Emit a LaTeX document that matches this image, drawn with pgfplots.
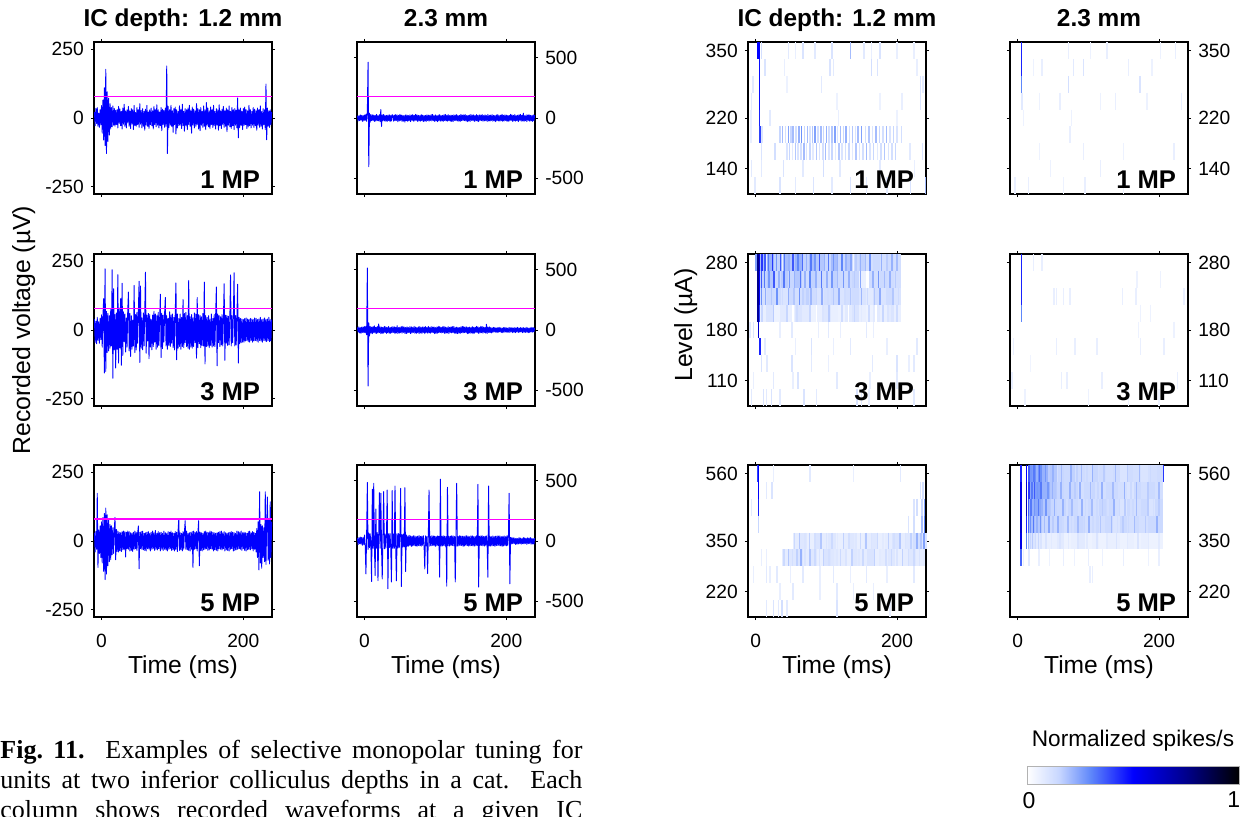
\documentclass[border=0pt]{standalone}
\usepackage{fontspec}
\setmainfont{Liberation Sans}
\newfontfamily\capfont{Liberation Serif}
\usepackage{pgfplots}
\pgfplotsset{compat=1.18}
\definecolor{wblue}{RGB}{0,0,255}
\definecolor{thr}{RGB}{255,0,255}
\tikzset{mplab/.style={anchor=base east, font=\bfseries\fontsize{12.8}{14}\selectfont, inner sep=0pt},
  ttl/.style={anchor=base, font=\bfseries\fontsize{12.2}{14}\selectfont}}
\pgfplotsset{
  colormap={spk}{rgb255(0pt)=(255,255,255) rgb255(3pt)=(200,215,255) rgb255(6pt)=(95,135,250) rgb255(10pt)=(0,0,255) rgb255(15pt)=(0,0,140) rgb255(20pt)=(0,0,0)},
  panel/.style={scale only axis, width=89pt, height=76pt, anchor=north west,
    axis line style={line width=0.6pt}, tick align=outside,
    tick style={line width=0.5pt, black}, major tick length=1.6pt,
    xtick={0,200}, xticklabels={}, xmin=-10.6, xmax=240.5,
    ticklabel style={font=\fontsize{9.6}{11}\selectfont},
    xticklabel style={yshift=-3.5pt},
    xlabel style={at={(axis description cs:0.5,0)}, anchor=base, yshift=-28pt, font=\fontsize{12.3}{14}\selectfont}},
  wave1/.style={panel, ymin=-276, ymax=276, ytick={-250,0,250}, yticklabels={-250,0,250}},
  wave2/.style={panel, ymin=-630, ymax=630, ytick={-500,0,500}, yticklabels={-500,0,500}, yticklabel pos=right},
  heat/.style={panel, xmin=-11, xmax=241, ymin=0.5, ymax=9.5, y dir=reverse, ytick={1,5,8}, axis on top,
    colormap name=spk, point meta min=0, point meta max=1},
  wv/.style={color=wblue, line width=0.45pt, line join=round},
  th/.style={draw=thr, line width=0.65pt},
  hm/.style={scatter, only marks, mark=|, mark size=4.22pt, point meta=explicit,
    scatter/use mapped color={draw=mapped color, fill=mapped color}, mark options={line width=0.75pt}},
  hmw/.style={hm, mark options={line width=3.6pt}},
}
\begin{document}
\begin{tikzpicture}
% ================= column 1 : waveforms, 1.2 mm =================
\begin{axis}[wave1, at={(47pt,-21pt)}]
\addplot[wv] table[x expr=\coordindex-10, y index=0, header=false, row sep=\\]{
22\\-28\\35\\-20\\38\\-30\\18\\-34\\30\\-25\\
45\\-55\\65\\-80\\110\\-100\\177\\-129\\95\\-85\\
72\\-62\\52\\-40\\38\\-32\\44\\-26\\35\\-30\\
28\\-24\\30\\-36\\42\\-20\\33\\-28\\24\\-40\\
36\\-22\\50\\-30\\26\\-36\\30\\-18\\42\\-30\\
26\\-38\\34\\-22\\30\\-42\\46\\-28\\20\\-30\\
38\\-24\\30\\-34\\52\\-22\\28\\-36\\34\\-30\\
24\\-44\\32\\-26\\46\\-30\\22\\-38\\30\\-24\\
36\\-28\\26\\-40\\42\\-24\\30\\-32\\48\\-26\\
30\\-36\\22\\-28\\38\\-46\\32\\-24\\28\\-34\\
36\\-30\\189\\-129\\42\\-35\\30\\-26\\46\\-30\\
26\\-52\\34\\-24\\40\\-58\\30\\-36\\24\\-28\\
44\\-26\\30\\-38\\50\\-28\\24\\-48\\34\\-26\\
30\\-42\\36\\-24\\46\\-30\\26\\-55\\40\\-26\\
32\\-36\\26\\-30\\52\\-24\\34\\-40\\30\\-46\\
38\\-26\\24\\-34\\44\\-30\\30\\-42\\56\\-26\\
36\\-32\\26\\-38\\40\\-24\\30\\-34\\46\\-28\\
24\\-40\\34\\-26\\30\\-44\\48\\-28\\26\\-38\\
32\\-24\\42\\-34\\26\\-30\\36\\-50\\30\\-26\\
44\\-32\\24\\-38\\38\\-28\\30\\-42\\34\\-26\\
28\\-36\\73\\-72\\30\\-34\\36\\-26\\24\\-42\\
34\\-28\\40\\-24\\30\\-38\\26\\-32\\46\\-28\\
30\\-36\\24\\-26\\38\\-34\\32\\-28\\26\\-44\\
36\\-26\\30\\-34\\44\\-30\\24\\-40\\34\\-24\\
30\\-42\\123\\-79\\36\\-30\\26\\-34\\30\\-24\\
22\\};
\addplot[th] coordinates {(-10.6,78) (240.5,78)};
\end{axis}
\begin{axis}[wave1, at={(47pt,-127pt)}]
\addplot[wv] table[x expr=\coordindex-10, y index=0, header=false, row sep=\\]{
40\\-45\\32\\-50\\46\\-38\\30\\-48\\42\\-35\\
55\\-62\\48\\114\\-156\\222\\-150\\68\\-82\\60\\
-76\\52\\-66\\74\\-58\\219\\-175\\150\\-72\\56\\
-138\\62\\-70\\201\\-120\\80\\-65\\114\\-128\\170\\
-92\\66\\-42\\58\\-80\\44\\-62\\72\\138\\-76\\
60\\-96\\52\\-70\\36\\-58\\162\\-82\\56\\-72\\
64\\-48\\70\\177\\-118\\160\\-66\\44\\-72\\62\\
-58\\66\\210\\-84\\54\\-40\\60\\-104\\56\\-62\\
38\\-72\\54\\-60\\68\\-44\\58\\-70\\52\\-62\\
64\\-56\\40\\130\\-100\\60\\-68\\54\\-44\\60\\
118\\-58\\52\\-70\\42\\-56\\66\\-60\\54\\-48\\
58\\-64\\46\\-72\\62\\171\\-108\\58\\-66\\42\\
-60\\58\\-70\\46\\-60\\111\\-64\\60\\-46\\64\\
-60\\52\\-66\\180\\-70\\48\\-62\\56\\-66\\44\\
-60\\62\\-46\\58\\-102\\118\\-64\\56\\-50\\52\\
-64\\48\\-56\\60\\-58\\174\\-123\\52\\-60\\46\\
-58\\52\\-64\\40\\-56\\58\\-62\\42\\-58\\56\\
-60\\54\\156\\-130\\58\\-46\\52\\-60\\48\\-54\\
56\\-58\\42\\168\\-110\\54\\-48\\52\\-56\\50\\
-54\\42\\200\\-58\\52\\-46\\50\\208\\-58\\52\\
-54\\48\\166\\-120\\46\\-50\\42\\-46\\40\\-44\\
38\\-44\\42\\-40\\44\\-38\\40\\-42\\38\\-44\\
42\\-38\\40\\-44\\38\\-40\\44\\-38\\42\\-40\\
38\\-44\\40\\-38\\46\\-40\\38\\-44\\40\\-38\\
44\\-40\\38\\-42\\40\\-38\\46\\-42\\38\\-40\\
38\\};
\addplot[th] coordinates {(-10.6,78) (240.5,78)};
\end{axis}
\begin{axis}[wave1, at={(47pt,-232.5pt)}, xticklabels={0,200}, xlabel={Time (ms)}]
\addplot[wv] table[x expr=\coordindex-10, y index=0, header=false, row sep=\\]{
30\\-40\\35\\-30\\173\\-96\\40\\-45\\55\\-60\\
70\\-80\\85\\-110\\100\\-140\\120\\-120\\95\\-90\\
80\\-75\\60\\-68\\55\\-50\\48\\-45\\40\\86\\
-68\\42\\-38\\36\\-40\\32\\-35\\30\\-38\\34\\
-32\\36\\-30\\34\\-58\\32\\-28\\36\\-30\\34\\
-36\\30\\-34\\28\\-38\\32\\-30\\36\\-28\\32\\
-34\\30\\55\\-101\\32\\-28\\34\\-30\\36\\-32\\
28\\-34\\30\\-36\\32\\-28\\34\\-30\\28\\-36\\
32\\-30\\36\\-28\\30\\-34\\38\\-30\\28\\-32\\
34\\-28\\30\\-36\\32\\-30\\28\\-34\\36\\-30\\
30\\-32\\28\\-36\\34\\-30\\32\\-28\\36\\-34\\
30\\-32\\28\\-36\\34\\-30\\32\\-38\\36\\80\\
-34\\30\\-32\\28\\-36\\34\\-30\\32\\74\\-30\\
36\\-32\\28\\-34\\30\\-36\\32\\-30\\34\\-96\\
36\\-30\\32\\-28\\34\\-36\\30\\74\\-90\\32\\
-34\\30\\-36\\28\\-32\\34\\-30\\36\\-28\\32\\
-34\\30\\-32\\36\\-28\\34\\-30\\32\\-36\\30\\
-32\\28\\-34\\30\\-36\\32\\-28\\34\\-30\\36\\
-32\\30\\-28\\34\\-36\\30\\-32\\28\\-34\\30\\
-36\\32\\-30\\34\\-28\\32\\-36\\30\\-34\\28\\
-32\\36\\-30\\34\\-28\\32\\-30\\36\\-34\\30\\
-28\\32\\-34\\30\\-36\\28\\-32\\34\\-30\\36\\
-32\\30\\-28\\34\\-36\\32\\-30\\28\\-40\\45\\
-60\\70\\-105\\179\\-80\\60\\-99\\55\\-60\\48\\
-75\\179\\-85\\60\\160\\-70\\80\\-83\\142\\-60\\
70\\};
\addplot[th] coordinates {(-10.6,80) (240.5,80)};
\end{axis}
% ================= column 2 : waveforms, 2.3 mm =================
\begin{axis}[wave2, at={(178.5pt,-21pt)}]
\addplot[wv] table[x expr=\coordindex-10, y index=0, header=false, row sep=\\]{
20\\-25\\18\\-22\\26\\-18\\22\\-28\\20\\-24\\
25\\-20\\30\\-28\\60\\463\\-403\\40\\-35\\28\\
-22\\26\\-20\\24\\-28\\22\\-26\\30\\-22\\20\\
-24\\28\\-30\\70\\-70\\26\\-22\\30\\-24\\20\\
-26\\22\\-28\\24\\-20\\26\\-30\\22\\-24\\28\\
20\\-26\\24\\-22\\28\\-20\\26\\-30\\22\\-24\\
30\\-20\\24\\-28\\22\\-26\\20\\-34\\26\\-22\\
24\\-28\\20\\-22\\26\\-30\\24\\-20\\28\\-26\\
22\\-24\\30\\-20\\26\\-28\\22\\-24\\20\\-26\\
28\\-22\\24\\-30\\20\\-26\\22\\-28\\26\\-20\\
24\\-26\\22\\-20\\28\\-24\\30\\-22\\20\\-28\\
26\\-24\\20\\-30\\24\\-22\\28\\-26\\20\\-24\\
22\\-28\\26\\-20\\30\\-24\\22\\-26\\28\\-22\\
20\\-26\\24\\-28\\22\\-30\\26\\-20\\24\\-22\\
28\\-24\\20\\-26\\22\\-28\\30\\-22\\24\\-20\\
26\\-22\\28\\-24\\20\\-30\\22\\-26\\24\\-28\\
30\\-20\\24\\-22\\26\\-28\\20\\-24\\28\\-26\\
22\\-30\\26\\-20\\24\\-22\\28\\-26\\20\\-24\\
26\\-22\\20\\-28\\30\\-24\\22\\-26\\24\\-20\\
28\\-26\\22\\-24\\20\\-30\\26\\-22\\28\\-24\\
20\\-26\\24\\-22\\30\\-28\\22\\-24\\26\\-20\\
24\\-28\\20\\-26\\22\\-24\\30\\-20\\26\\-28\\
22\\-24\\28\\-26\\20\\-22\\24\\-30\\26\\-20\\
30\\-26\\22\\-24\\40\\-28\\20\\-22\\26\\-30\\
24\\-20\\28\\-26\\22\\-24\\20\\-28\\26\\-22\\
24\\};
\addplot[th] coordinates {(-10.6,180) (240.5,180)};
\end{axis}
\begin{axis}[wave2, at={(178.5pt,-127pt)}]
\addplot[wv] table[x expr=\coordindex-10, y index=0, header=false, row sep=\\]{
22\\-18\\26\\-24\\20\\-28\\24\\-20\\26\\-22\\
28\\-24\\30\\-40\\514\\-464\\60\\-50\\30\\-26\\
24\\-30\\28\\-22\\34\\-26\\22\\-28\\30\\-24\\
50\\-22\\26\\-30\\24\\-28\\22\\-26\\30\\-20\\
26\\-28\\22\\-24\\30\\-26\\20\\-28\\24\\-22\\
28\\-20\\26\\-30\\22\\-24\\36\\-28\\20\\-26\\
24\\-22\\28\\-26\\30\\-20\\24\\-28\\22\\-30\\
26\\-24\\20\\-22\\28\\-30\\26\\-24\\22\\-20\\
30\\-26\\24\\-28\\20\\-22\\26\\-30\\28\\-24\\
22\\-28\\26\\-20\\24\\-30\\28\\-22\\20\\-26\\
30\\-24\\22\\-26\\28\\-20\\24\\-22\\26\\-30\\
20\\-28\\24\\-26\\30\\-22\\28\\-20\\22\\-24\\
26\\-22\\30\\-28\\24\\-26\\20\\-24\\28\\-30\\
22\\-20\\26\\-24\\28\\-22\\30\\-26\\20\\-28\\
24\\-30\\22\\-26\\20\\-28\\26\\-22\\30\\-24\\
28\\-22\\24\\-20\\26\\-30\\22\\-28\\24\\-26\\
20\\-24\\28\\-30\\22\\-26\\24\\-20\\30\\-22\\
26\\-28\\20\\-24\\30\\-22\\28\\-26\\24\\-20\\
22\\-26\\48\\-28\\24\\-20\\26\\-22\\20\\-24\\
18\\-20\\22\\-16\\20\\-18\\16\\-22\\20\\-18\\
22\\-16\\18\\-20\\16\\-22\\20\\-18\\22\\-16\\
18\\-20\\16\\-18\\22\\-20\\18\\-16\\20\\-22\\
16\\-18\\20\\-22\\18\\-16\\22\\-20\\16\\-18\\
20\\-16\\18\\-22\\20\\-18\\16\\-20\\22\\-18\\
18\\-22\\16\\-20\\18\\-16\\22\\-18\\20\\-16\\
18\\};
\addplot[th] coordinates {(-10.6,180) (240.5,180)};
\end{axis}
\begin{axis}[wave2, at={(178.5pt,-232.5pt)}, xticklabels={0,200}, xlabel={Time (ms)}]
\addplot[wv] table[x expr=\coordindex-10, y index=0, header=false, row sep=\\]{
25\\-30\\28\\-22\\32\\-26\\30\\-35\\28\\-30\\
50\\-40\\-273\\60\\486\\-70\\65\\-55\\60\\-50\\
-336\\429\\-60\\478\\-65\\-287\\265\\-60\\70\\-328\\
55\\401\\-60\\396\\-55\\-314\\60\\410\\-65\\58\\
-60\\55\\423\\-396\\60\\-55\\62\\-58\\-340\\418\\
-60\\58\\-62\\456\\-55\\-330\\60\\-58\\62\\-55\\
60\\437\\-377\\55\\-50\\58\\-48\\442\\-254\\50\\
-45\\40\\-42\\48\\-38\\42\\-45\\38\\-40\\44\\
-38\\42\\-40\\36\\-44\\40\\-38\\45\\-40\\38\\
-42\\40\\-36\\44\\-38\\-232\\42\\-40\\38\\-270\\
40\\423\\-42\\38\\-40\\44\\-36\\42\\-38\\40\\
-44\\38\\-40\\42\\-36\\40\\-300\\513\\-42\\38\\
-40\\44\\-38\\40\\-42\\36\\-374\\445\\-40\\38\\
-42\\40\\-36\\44\\-38\\42\\-40\\38\\-340\\44\\
478\\-42\\38\\-40\\44\\-36\\42\\-38\\40\\-44\\
38\\-40\\42\\-36\\44\\-38\\40\\-42\\36\\-40\\
42\\-38\\44\\-40\\36\\-42\\38\\-40\\44\\-36\\
470\\-382\\40\\-38\\42\\-36\\44\\-40\\38\\-42\\
40\\-36\\42\\-38\\-300\\456\\-40\\38\\-42\\36\\
-40\\42\\-38\\36\\-44\\40\\-38\\42\\-36\\40\\
-38\\42\\-40\\36\\-44\\38\\-40\\42\\-38\\36\\
-40\\44\\-36\\42\\396\\-355\\30\\-25\\28\\-22\\
26\\-20\\24\\-28\\22\\-26\\20\\-24\\28\\-22\\
24\\-26\\20\\-22\\28\\-24\\26\\-20\\22\\-28\\
26\\-22\\24\\-20\\28\\-26\\22\\-24\\20\\-26\\
24\\};
\addplot[th] coordinates {(-10.6,178) (240.5,178)};
\end{axis}
% ================= column 3 : heat maps, 1.2 mm =================
\begin{axis}[heat, at={(374pt,-21pt)}, yticklabels={350,220,140}]
\addplot[hm] table[x=t, y=r, meta=v, row sep=\\]{
t r v\\
3 1 .5\\ 5 1 .5\\ 5 2 .48\\ 5 3 .48\\ 5 4 .48\\ 5 5 .45\\ 6 6 .4\\
8 1 .12\\ 46 1 .08\\ 56 1 .06\\ 67 1 .1\\ 84 1 .08\\ 108 1 .1\\ 134 1 .2\\ 153 1 .08\\ 164 1 .06\\ 176 1 .1\\ 200 1 .06\\ 224 1 .06\\
13 2 .1\\ 41 2 .06\\ 105 2 .1\\ 110 2 .08\\ 164 2 .12\\ 172 2 .1\\ 228 2 .06\\
-4 3 .08\\ 44 3 .05\\ 93 3 .08\\ 233 3 .1\\ 237 3 .08\\
-6 4 .08\\ 115 4 .05\\ 176 4 .05\\ 207 4 .06\\ 233 4 .1\\
-7 5 .06\\ 20 5 .08\\ 117 5 .06\\ 200 5 .05\\
-7 6 .06\\ 9 6 .1\\ 34 6 .15\\ 38 6 .2\\ 42 6 .12\\ 46 6 .25\\ 50 6 .15\\ 53 6 .2\\ 57 6 .12\\ 61 6 .22\\ 65 6 .28\\ 69 6 .15\\
73 6 .2\\ 77 6 .1\\ 80 6 .18\\ 84 6 .25\\ 88 6 .12\\ 92 6 .2\\ 96 6 .15\\ 100 6 .22\\ 104 6 .12\\ 108 6 .18\\ 112 6 .25\\ 116 6 .1\\
120 6 .2\\ 124 6 .15\\ 128 6 .22\\ 133 6 .12\\ 137 6 .18\\ 141 6 .1\\ 145 6 .2\\ 150 6 .25\\ 155 6 .12\\ 160 6 .18\\ 165 6 .1\\
170 6 .2\\ 175 6 .15\\ 180 6 .12\\ 185 6 .2\\ 190 6 .1\\ 195 6 .15\\ 200 6 .1\\ 206 6 .12\\
8 7 .1\\ 27 7 .12\\ 44 7 .1\\ 48 7 .15\\ 52 7 .08\\ 56 7 .18\\ 60 7 .1\\ 64 7 .12\\ 68 7 .2\\ 72 7 .1\\ 77 7 .15\\ 81 7 .08\\
86 7 .18\\ 90 7 .1\\ 95 7 .12\\ 99 7 .2\\ 104 7 .1\\ 108 7 .15\\ 113 7 .08\\ 118 7 .18\\ 122 7 .1\\ 127 7 .12\\ 132 7 .15\\
137 7 .08\\ 142 7 .18\\ 147 7 .1\\ 152 7 .12\\ 157 7 .2\\ 162 7 .1\\ 167 7 .15\\ 172 7 .08\\ 177 7 .12\\ 182 7 .18\\ 188 7 .1\\
193 7 .12\\ 198 7 .15\\ 218 7 .08\\ 236 7 .1\\
-6 8 .08\\ 8 8 .08\\ 39 8 .1\\ 67 8 .08\\ 96 8 .12\\ 119 8 .08\\ 176 8 .08\\ 225 8 .06\\
-1 9 .08\\ 34 9 .1\\ 56 9 .08\\ 82 9 .1\\ 108 9 .08\\ 134 9 .1\\ 157 9 .08\\ 186 9 .08\\ 219 9 .1\\ 240 9 .2\\
};
\end{axis}
\begin{axis}[heat, at={(374pt,-127pt)}, yticklabels={280,180,110}]
\addplot[hmw] table[x=t, y=r, meta=v, row sep=\\]{
t r v\\
11 1 .2\\ 21 1 .22\\ 31 1 .16\\ 41 1 .2\\ 51 1 .18\\ 61 1 .22\\ 71 1 .16\\ 81 1 .2\\ 91 1 .18\\ 101 1 .15\\
111 1 .2\\ 121 1 .15\\ 131 1 .18\\ 141 1 .14\\ 151 1 .16\\ 161 1 .12\\ 171 1 .14\\ 181 1 .12\\ 191 1 .13\\ 201 1 .12\\
11 2 .16\\ 21 2 .18\\ 31 2 .14\\ 41 2 .17\\ 51 2 .15\\ 61 2 .18\\ 71 2 .13\\ 81 2 .16\\ 91 2 .14\\ 101 2 .13\\
111 2 .16\\ 121 2 .14\\ 131 2 .13\\ 141 2 .15\\ 151 2 .06\\ 161 2 .13\\ 171 2 .12\\ 181 2 .14\\ 191 2 .13\\ 201 2 .12\\
11 3 .12\\ 21 3 .14\\ 31 3 .13\\ 41 3 .1\\ 51 3 .14\\ 61 3 .12\\ 71 3 .16\\ 81 3 .13\\ 91 3 .1\\ 101 3 .12\\
111 3 .13\\ 121 3 .1\\ 131 3 .12\\ 141 3 .13\\ 151 3 .1\\ 161 3 .08\\ 171 3 .12\\ 181 3 .1\\ 191 3 .13\\ 201 3 .1\\
11 4 .06\\ 21 4 .1\\ 31 4 .05\\ 41 4 .08\\ 51 4 .06\\ 61 4 .1\\ 71 4 .08\\ 81 4 .05\\ 91 4 .06\\ 101 4 .09\\
111 4 .06\\ 121 4 .05\\ 131 4 .08\\ 141 4 .1\\ 151 4 .06\\ 161 4 .05\\ 171 4 .08\\ 181 4 .06\\ 191 4 .1\\ 201 4 .06\\
};
\addplot[hm] table[x=t, y=r, meta=v, row sep=\\]{
t r v\\
0 1 .25\\ 3 1 .75\\ 5 1 .6\\ 3 2 .75\\ 5 2 .5\\ 3 3 .75\\ 5 3 .5\\ 3 4 .72\\ 5 4 .4\\ 4 5 .6\\ 6 6 .45\\
9 1 .42\\ 13 1 .37\\ 18 1 .32\\ 24 1 .42\\ 29 1 .27\\ 35 1 .37\\ 41 1 .32\\ 47 1 .22\\ 53 1 .37\\ 60 1 .3\\ 66 1 .34\\ 72 1 .22\\
78 1 .32\\ 84 1 .27\\ 90 1 .37\\ 97 1 .22\\ 103 1 .32\\ 110 1 .27\\ 116 1 .22\\ 122 1 .3\\ 128 1 .22\\ 135 1 .24\\ 142 1 .17\\
148 1 .22\\ 155 1 .2\\ 162 1 .27\\ 170 1 .14\\ 178 1 .22\\ 186 1 .17\\ 193 1 .22\\ 200 1 .2\\ 15 1 .08\\ 38 1 .06\\ 138 1 .04\\
8 2 .37\\ 12 2 .32\\ 19 2 .27\\ 26 2 .37\\ 33 2 .22\\ 40 2 .32\\ 48 2 .27\\ 55 2 .22\\ 63 2 .32\\ 70 2 .22\\ 77 2 .3\\ 85 2 .22\\
93 2 .32\\ 101 2 .22\\ 108 2 .27\\ 116 2 .2\\ 124 2 .27\\ 132 2 .22\\ 140 2 .17\\ 148 2 .24\\ 157 2 0\\ 159 2 0\\ 166 2 .22\\
174 2 .27\\ 182 2 .2\\ 190 2 .22\\ 198 2 .17\\
8 3 .28\\ 14 3 .23\\ 22 3 .18\\ 30 3 .28\\ 38 3 .13\\ 46 3 .23\\ 54 3 .18\\ 62 3 .28\\ 70 3 .13\\ 78 3 .21\\ 86 3 .15\\ 94 3 .23\\
102 3 .13\\ 110 3 .18\\ 118 3 .23\\ 126 3 .13\\ 134 3 .18\\ 142 3 .13\\ 150 3 .21\\ 158 3 .13\\ 168 3 .18\\ 176 3 .23\\ 185 3 .13\\
194 3 .18\\ 202 3 .13\\
9 4 .15\\ 16 4 .1\\ 25 4 .17\\ 35 4 .08\\ 44 4 .15\\ 53 4 0\\ 58 4 .13\\ 68 4 .08\\ 77 4 .15\\ 86 4 0\\ 95 4 .1\\ 104 4 .17\\
113 4 .06\\ 122 4 .13\\ 131 4 0\\ 140 4 .15\\ 150 4 .08\\ 160 4 .13\\ 170 4 0\\ 180 4 .15\\ 190 4 .08\\ 200 4 .13\\
-8 5 .08\\ -3 5 .1\\ 34 5 .06\\ 51 5 .08\\ 89 5 .06\\ 103 5 .08\\ 120 5 .06\\ 157 5 .08\\ 167 5 .06\\
13 6 .08\\ 56 6 .06\\ 79 6 .1\\ 110 6 .06\\ 134 6 .08\\ 186 6 .06\\ 228 6 .08\\
8 7 .1\\ 16 7 .08\\ 51 7 .1\\ 79 7 .08\\ 103 7 .06\\ 165 7 .08\\ 200 7 .1\\ 217 7 .06\\ 224 7 .08\\
-3 8 .06\\ 25 8 .08\\ 53 8 .06\\ 60 8 .1\\ 115 8 .08\\ 162 8 .06\\ 200 8 .08\\
-6 9 .08\\ 11 9 .1\\ 15 9 .08\\ 22 9 .1\\ 34 9 .08\\ 68 9 .1\\ 86 9 .08\\ 143 9 .1\\ 150 9 .08\\ 160 9 .06\\ 224 9 .08\\
};
\end{axis}
\begin{axis}[heat, at={(374pt,-232.5pt)}, yticklabels={560,350,220}, xticklabels={0,200}, xlabel={Time (ms)}]
\addplot[hmw] table[x=t, y=r, meta=v, row sep=\\]{
t r v\\
58 5 .07\\ 68 5 .09\\ 78 5 .06\\ 88 5 .1\\ 98 5 .07\\ 108 5 .09\\ 118 5 .06\\ 128 5 .07\\ 138 5 .09\\ 148 5 .06\\
158 5 .07\\ 168 5 .09\\ 178 5 .06\\ 188 5 .07\\ 198 5 .1\\ 208 5 .07\\ 218 5 .09\\ 228 5 .12\\ 238 5 .1\\
42 6 .07\\ 52 6 .09\\ 62 6 .1\\ 72 6 .07\\ 82 6 .09\\ 92 6 .06\\ 102 6 .1\\ 112 6 .09\\ 122 6 .07\\ 132 6 .06\\
142 6 .09\\ 152 6 .07\\ 162 6 .1\\ 172 6 .06\\ 182 6 .07\\ 192 6 .09\\ 202 6 .06\\ 212 6 .07\\ 222 6 .09\\ 232 6 .07\\
};
\addplot[hm] table[x=t, y=r, meta=v, row sep=\\]{
t r v\\
3 1 .4\\ 4 1 .5\\ 4 2 .5\\ 4 3 .45\\ 4 4 .15\\
25 1 .06\\ 77 1 .08\\ 138 1 .06\\ 205 1 .08\\
15 2 .08\\ 23 2 .1\\ 233 2 .1\\ 237 2 .12\\
-6 3 .08\\ 224 3 .1\\ 228 3 .12\\ 235 3 .15\\ 239 3 .25\\
216 4 .1\\ 224 4 .12\\ 235 4 .2\\ 239 4 .3\\
55 5 .14\\ 62 5 .18\\ 70 5 .1\\ 76 5 .16\\ 84 5 .12\\ 92 5 .18\\ 100 5 .1\\ 108 5 .14\\ 116 5 .08\\ 124 5 .16\\ 132 5 .12\\
140 5 .08\\ 148 5 .14\\ 156 5 .18\\ 164 5 .1\\ 172 5 .14\\ 180 5 .08\\ 188 5 .16\\ 196 5 .12\\ 204 5 .18\\ 212 5 .1\\
220 5 .16\\ 228 5 .22\\ 234 5 .18\\ 238 5 .25\\
8 6 .06\\ 15 6 .06\\ 40 6 .14\\ 46 6 .18\\ 52 6 .12\\ 58 6 .16\\ 64 6 .22\\ 70 6 .1\\ 77 6 .18\\ 84 6 .14\\ 90 6 .1\\ 96 6 .16\\
104 6 .12\\ 112 6 .08\\ 120 6 .14\\ 128 6 .1\\ 136 6 .16\\ 144 6 .08\\ 152 6 .14\\ 160 6 .1\\ 168 6 .16\\ 176 6 .08\\
184 6 .12\\ 192 6 .14\\ 200 6 .1\\ 208 6 .16\\ 216 6 .12\\ 224 6 .14\\ 232 6 .1\\ 238 6 .08\\
-3 7 .06\\ 15 7 .08\\ 20 7 .06\\ 30 7 .08\\ 49 7 .06\\ 67 7 .08\\ 91 7 .06\\ 110 7 .08\\ 134 7 .06\\ 157 7 .08\\ 186 7 .06\\ 224 7 .08\\
34 8 .06\\ 53 8 .08\\ 91 8 .06\\ 115 8 .08\\ 138 8 .06\\ 167 8 .06\\
15 9 .08\\ 25 9 .1\\ 32 9 .08\\ 37 9 .12\\ 44 9 .08\\ 115 9 .1\\ 190 9 .06\\
};
\end{axis}
% ================= column 4 : heat maps, 2.3 mm =================
\begin{axis}[heat, at={(505pt,-21pt)}, yticklabels={350,220,140}, yticklabel pos=right]
\addplot[hm] table[x=t, y=r, meta=v, row sep=\\]{
t r v\\
5 1 .45\\ 5 2 .45\\ 5 3 .3\\ 6 4 .08\\
72 1 .06\\ 103 1 .05\\ 126 1 .06\\ 202 1 .05\\ 223 1 .06\\
22 2 .05\\ 34 2 .06\\ 79 2 .08\\ 93 2 .1\\ 157 2 .06\\ 190 2 .05\\
72 3 .12\\ 173 3 .1\\
31 4 .05\\ 60 4 .06\\ 117 4 .05\\ 138 4 .06\\ 183 4 .05\\ 232 4 .06\\
8 5 .05\\ 76 5 .05\\
74 6 .06\\
31 7 .05\\ 93 7 .06\\ 150 7 .05\\ 221 7 .06\\
46 8 .05\\ 117 8 .06\\
-4 9 .06\\ 15 9 .06\\ 65 9 .05\\ 95 9 .06\\ 150 9 .05\\
};
\end{axis}
\begin{axis}[heat, at={(505pt,-127pt)}, yticklabels={280,180,110}, yticklabel pos=right]
\addplot[hm] table[x=t, y=r, meta=v, row sep=\\]{
t r v\\
5 1 .45\\ 5 2 .45\\ 5 3 .45\\ 5 4 .3\\
22 1 .06\\ 34 1 .06\\
169 2 .05\\ 202 2 .05\\
51 3 .06\\ 55 3 .06\\ 65 3 .06\\ 74 3 .06\\ 148 3 .06\\ 167 3 .06\\ 235 3 .06\\
174 4 .05\\ 188 4 .05\\
171 5 .05\\ 221 5 .05\\
-6 6 .06\\ 55 6 .06\\ 81 6 .06\\ 112 6 .06\\ 174 6 .06\\ 207 6 .06\\
18 7 .04\\
-8 8 .06\\ 62 8 .06\\ 70 8 .06\\ 119 8 .06\\ 226 8 .06\\
10 9 .05\\ 100 9 .05\\ 157 9 .05\\ 200 9 .05\\
};
\end{axis}
\begin{axis}[heat, at={(505pt,-232.5pt)}, yticklabels={560,350,220}, yticklabel pos=right, xticklabels={0,200}, xlabel={Time (ms)},
  colorbar horizontal,
  colorbar style={at={(parent axis.south west)}, anchor=north west, xshift=8.5pt, yshift=-66pt,
    scale only axis, width=106pt, height=9pt, xtick={0.01,0.975}, xticklabels={0,1},
    major tick length=0pt, xtick style={draw=none}, axis line style={draw=gray!60, line width=0.4pt},
    xticklabel style={font=\fontsize{11.5}{13}\selectfont, yshift=-0.5pt},
    title={Normalized spikes/s}, title style={at={(0.5,1)}, anchor=base, yshift=4pt, font=\fontsize{11.3}{13}\selectfont}}]
\addplot[hmw] table[x=t, y=r, meta=v, row sep=\\]{
t r v\\
20 1 .26\\ 30 1 .28\\ 40 1 .22\\ 50 1 .18\\ 60 1 .15\\ 70 1 .14\\ 80 1 .16\\ 90 1 .13\\ 100 1 .12\\ 110 1 .15\\
120 1 .13\\ 130 1 .12\\ 140 1 .13\\ 150 1 .1\\ 160 1 .13\\ 170 1 .12\\ 180 1 .1\\ 190 1 .12\\ 200 1 .13\\
20 2 .24\\ 30 2 .26\\ 40 2 .22\\ 50 2 .18\\ 60 2 .15\\ 70 2 .14\\ 80 2 .15\\ 90 2 .12\\ 100 2 .14\\ 110 2 .15\\
120 2 .12\\ 130 2 .14\\ 140 2 .14\\ 150 2 .12\\ 160 2 .1\\ 170 2 .14\\ 180 2 .12\\ 190 2 .14\\ 200 2 .12\\
20 3 .22\\ 30 3 .24\\ 40 3 .18\\ 50 3 .15\\ 60 3 .14\\ 70 3 .15\\ 80 3 .14\\ 90 3 .12\\ 100 3 .14\\ 110 3 .12\\
120 3 .15\\ 130 3 .14\\ 140 3 .12\\ 150 3 .1\\ 160 3 .14\\ 170 3 .12\\ 180 3 .14\\ 190 3 .1\\ 200 3 .14\\
20 4 .2\\ 30 4 .18\\ 40 4 .15\\ 50 4 .14\\ 60 4 .15\\ 70 4 .12\\ 80 4 .14\\ 90 4 .15\\ 100 4 .12\\ 110 4 .14\\
120 4 .12\\ 130 4 .14\\ 140 4 .1\\ 150 4 .14\\ 160 4 .12\\ 170 4 .14\\ 180 4 .12\\ 190 4 .14\\ 200 4 .14\\
20 5 .1\\ 30 5 .08\\ 40 5 .06\\ 50 5 .06\\ 60 5 .08\\ 70 5 .05\\ 80 5 .06\\ 90 5 .08\\ 100 5 .05\\ 110 5 .06\\
120 5 .05\\ 130 5 .06\\ 140 5 .06\\ 150 5 .05\\ 160 5 .06\\ 170 5 .05\\ 180 5 .06\\ 190 5 .05\\ 200 5 .05\\
};
\addplot[hm] table[x=t, y=r, meta=v, row sep=\\]{
t r v\\
4.7 1 .45\\ 4.7 2 .55\\ 4.7 3 .55\\ 4.7 4 .6\\ 4.7 5 .55\\ 4.7 6 .35\\
12.5 1 .5\\ 12.5 2 .6\\ 12.5 3 .65\\ 12.5 4 .45\\ 12.5 5 .3\\
16 1 .37\\ 19 1 .27\\ 23 1 .32\\ 27 1 .22\\ 31 1 .34\\ 35 1 .22\\ 39 1 .27\\ 44 1 .17\\ 50 1 .22\\ 56 1 .12\\ 62 1 .2\\ 68 1 .14\\
75 1 .22\\ 82 1 .12\\ 90 1 .2\\ 98 1 .14\\ 106 1 .22\\ 114 1 .12\\ 122 1 .17\\ 130 1 .12\\ 138 1 .2\\ 146 1 .1\\ 155 1 .17\\
164 1 .12\\ 172 1 .2\\ 180 1 .1\\ 188 1 .14\\ 196 1 .12\\ 206 1 .42\\
16 2 .42\\ 20 2 .32\\ 24 2 .37\\ 28 2 .27\\ 33 2 .32\\ 38 2 .22\\ 43 2 .27\\ 49 2 .22\\ 55 2 .17\\ 61 2 .22\\ 67 2 .14\\ 74 2 .22\\
81 2 .17\\ 88 2 .22\\ 95 2 .14\\ 103 2 .2\\ 111 2 .12\\ 119 2 .22\\ 127 2 .14\\ 135 2 .2\\ 143 2 .12\\ 151 2 .22\\ 160 2 .14\\
168 2 .2\\ 176 2 .12\\ 184 2 .17\\ 192 2 .14\\ 200 2 .2\\
15 3 .37\\ 19 3 .32\\ 24 3 .27\\ 29 3 .32\\ 34 3 .22\\ 40 3 .27\\ 46 3 .17\\ 52 3 .22\\ 58 3 .14\\ 64 3 .22\\ 70 3 .12\\ 77 3 .2\\
84 3 .14\\ 91 3 .22\\ 98 3 .12\\ 105 3 .2\\ 112 3 .14\\ 120 3 .17\\ 128 3 .12\\ 136 3 .22\\ 144 3 .14\\ 152 3 .17\\ 160 3 .12\\
168 3 .2\\ 176 3 .14\\ 184 3 .17\\ 192 3 .12\\ 200 3 .17\\
15 4 .34\\ 18 4 .28\\ 22 4 .32\\ 27 4 .22\\ 32 4 .27\\ 38 4 .2\\ 44 4 .24\\ 50 4 .17\\ 57 4 .22\\ 64 4 .14\\ 71 4 .2\\ 78 4 .12\\
85 4 .2\\ 93 4 .14\\ 101 4 .22\\ 109 4 .12\\ 117 4 .18\\ 125 4 .14\\ 133 4 .2\\ 141 4 .12\\ 149 4 .17\\ 157 4 .14\\ 165 4 .2\\
173 4 .12\\ 181 4 .17\\ 189 4 .14\\ 197 4 .22\\
15 5 .2\\ 18 5 .15\\ 21 5 .17\\ 25 5 .13\\ 29 5 .15\\ 33 5 .1\\ 40 5 .1\\ 48 5 .08\\ 60 5 .1\\ 72 5 .08\\ 85 5 .1\\
98 5 .08\\ 112 5 .1\\ 126 5 .08\\ 140 5 .1\\ 155 5 .08\\ 170 5 .1\\ 185 5 .08\\ 200 5 .08\\
8 6 .06\\ 16 6 .08\\ 30 6 .06\\ 45 6 .05\\ 65 6 .06\\ 80 6 .05\\ 100 6 .06\\ 120 6 .05\\ 150 6 .06\\ 185 6 .05\\ 200 6 .06\\
102 7 .06\\ 106 7 .06\\
};
\end{axis}
% ================= panel labels =================
\node[mplab] at (130.2pt,-94pt) {1 MP};
\node[mplab] at (130.2pt,-200pt) {3 MP};
\node[mplab] at (130.2pt,-305.5pt) {5 MP};
\node[mplab] at (261.7pt,-94pt) {1 MP};
\node[mplab] at (261.7pt,-200pt) {3 MP};
\node[mplab] at (261.7pt,-305.5pt) {5 MP};
\node[mplab] at (457.2pt,-94pt) {1 MP};
\node[mplab] at (457.2pt,-200pt) {3 MP};
\node[mplab] at (457.2pt,-305.5pt) {5 MP};
\node[mplab] at (588.2pt,-94pt) {1 MP};
\node[mplab] at (588.2pt,-200pt) {3 MP};
\node[mplab] at (588.2pt,-305.5pt) {5 MP};
% ================= titles, labels, caption =================
\node[ttl] at (91.5pt,-13pt) {IC depth: 1.2 mm};
\node[ttl] at (223pt,-13pt) {2.3 mm};
\node[ttl] at (418.5pt,-13pt) {IC depth: 1.2 mm};
\node[ttl] at (549.5pt,-13pt) {2.3 mm};
\node[anchor=base, rotate=90, font=\fontsize{12.4}{14}\selectfont] at (15pt,-165pt) {Recorded voltage (µV)};
\node[anchor=base, rotate=90, font=\fontsize{12.4}{14}\selectfont] at (346pt,-162.5pt) {Level (µA)};
\node[anchor=base west, inner sep=0pt] at (0pt,-379pt) {\parbox[t]{291pt}{\capfont\fontsize{13}{15}\selectfont\parfillskip=0pt\relax
\textbf{Fig.~11.}\ \ Examples of selective monopolar tuning for\linebreak units at two inferior colliculus depths in a cat. Each\linebreak column shows recorded waveforms at a given IC}};
\pgfresetboundingbox
\path[use as bounding box] (0pt,0pt) rectangle (620.5pt,-408pt);
\end{tikzpicture}
\end{document}
